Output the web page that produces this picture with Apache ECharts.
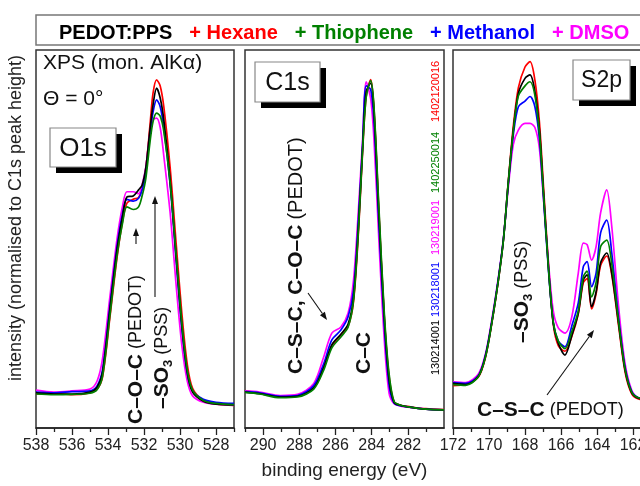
<!DOCTYPE html>
<html>
<head>
<meta charset="utf-8">
<script src="https://cdn.jsdelivr.net/npm/echarts@6/dist/echarts.min.js"></script>
<style>
  html, body { margin: 0; padding: 0; background: #fff; }
  #chart { width: 640px; height: 486px; }
</style>
</head>
<body>
<div id="chart"></div>
<script>
// sample names / colours
const sampleNames = ['PEDOT:PPS', '+ Hexane', '+ Thiophene', '+ Methanol', '+ DMSO'];
const sampleColors = ['#000000', '#ff0000', '#008000', '#0000ff', '#ff00ff'];
const sampleIds = ['130214001', '1402120016', '1402250014', '130218001', '130219001'];

// O1s region (binding energy in eV, intensity normalised, 0..100)
const o1sEnergy = [538, 537, 536, 535, 534.6, 534.3, 533.9, 533.5, 533.2, 532.95, 532.6, 532.3, 532.1, 531.9, 531.67, 531.5, 531.3, 531.1, 530.9, 530.55, 530.2, 529.9, 529.6, 529.3, 528.7, 528, 527];
const o1sPedot = [9.3, 9.0, 9.0, 9.5, 10.8, 14.8, 31.2, 47.1, 55.8, 61.1, 61.4, 63.0, 64.3, 68.8, 78.8, 85.4, 89.9, 87.3, 81.5, 65.6, 44.4, 27.2, 14.8, 9.5, 7.1, 6.3, 6.1];
const o1sHexane = [9.0, 9.2, 8.8, 9.3, 10.3, 13.5, 29, 45, 54.5, 59.5, 60.5, 61, 63.5, 68.5, 80, 88.5, 92.1, 90.5, 85, 69, 48, 30.5, 17, 10.5, 7.3, 6.4, 6.0];
const o1sThiophene = [9.0, 8.8, 8.9, 9.2, 10.2, 13.8, 29.5, 45.5, 54, 58.5, 57.8, 58.5, 61.5, 66, 75.5, 81, 83.3, 82.5, 78.5, 65, 45, 28, 15.5, 10, 7.3, 6.5, 6.2];
const o1sMethanol = [9.5, 9.3, 9.6, 9.8, 11.2, 15.5, 32, 48, 56.5, 60.5, 60, 60.8, 63, 67.5, 77.5, 83.5, 86.8, 85, 79.5, 64.5, 43.5, 26.5, 14.5, 9.8, 7.6, 6.8, 6.5];
const o1sDmso = [10.0, 9.5, 9.8, 10.3, 12.5, 18.5, 34.5, 50, 58.5, 62.5, 62.5, 62, 64.5, 69, 78, 81.5, 82, 79.5, 72, 57, 37, 22, 12.5, 8.5, 6.8, 6.3, 6.0];

// C1s region
const c1sEnergy = [291, 290.2, 289.05, 288.1, 287.2, 286.65, 286.2, 285.7, 285.3, 285.0, 284.72, 284.5, 284.3, 284.05, 283.87, 283.6, 283.3, 283.04, 282.76, 282.4, 282.0, 281, 280];
const c1sPedot = [9.5, 9.1, 8.2, 8.4, 10.6, 16, 22, 24.8, 27.5, 34.5, 54, 74, 89, 91.2, 83.5, 56.5, 29, 13, 6.8, 6.0, 5.6, 5.0, 4.8];
const c1sHexane = [9.9, 9.2, 8.3, 8.4, 10.6, 15.8, 21.8, 24.6, 26.9, 33.5, 52.5, 73, 87.8, 92.2, 84.5, 57.5, 29.5, 13.8, 6.9, 6.0, 5.7, 5.1, 4.9];
const c1sThiophene = [9.4, 9.0, 8.0, 8.2, 10.3, 15.3, 21.2, 24.1, 26.7, 33.9, 53.2, 73.5, 87.5, 91.9, 85, 58.5, 30.4, 14.5, 7.0, 6.0, 5.6, 5.0, 4.8];
const c1sMethanol = [9.6, 9.3, 8.4, 8.6, 11.2, 17.0, 23.3, 25.9, 29.4, 36.5, 56, 75, 90.5, 89.5, 81, 54, 27, 11.5, 6.6, 5.9, 5.6, 5.0, 4.8];
const c1sDmso = [9.8, 9.5, 8.6, 8.9, 11.8, 18.8, 25.1, 26.7, 30.4, 39.2, 58.5, 76.2, 91.6, 87, 76.2, 49.7, 23.3, 9.3, 6.4, 5.8, 5.5, 5.0, 4.8];

// S2p region
const s2pEnergy = [172, 171.3, 170.6, 170.2, 169.85, 169.48, 169.2, 168.93, 168.65, 168.37, 168.0, 167.72, 167.45, 167.2, 166.98, 166.7, 166.43, 166.15, 165.78, 165.4, 165.04, 164.76, 164.55, 164.3, 164.05, 163.8, 163.46, 163.18, 162.8, 162.44, 162.07, 161.7, 161];
const s2pPedot = [11.8, 11.5, 13.6, 18.9, 27.7, 39.2, 49.7, 64.8, 78.8, 88.5, 92.5, 93.4, 89, 79, 63, 42.7, 27.7, 22.4, 19.3, 24.5, 30.4, 39.2, 40.5, 32.1, 36, 43.7, 46.3, 41, 27.7, 15.3, 9.3, 7.9, 7.5];
const s2pHexane = [11.2, 11.6, 13.4, 18.6, 27.5, 39, 49.8, 65.2, 79.8, 90, 95.5, 96.9, 92, 81, 64.5, 43.5, 27.5, 21.8, 20.3, 24.2, 30.2, 38.5, 39.5, 31.5, 35.5, 43, 45.5, 40.5, 27, 14.8, 9, 7.7, 7.4];
const s2pThiophene = [11.5, 11.3, 13.5, 18.7, 27.6, 39.1, 49.6, 64.9, 78.5, 87.8, 90.5, 91.6, 88, 78, 62.5, 42.5, 28, 23, 21, 25.5, 31, 40, 41.5, 34.7, 38.5, 48, 49.7, 43.5, 28.2, 15.6, 9.5, 8, 7.6];
const s2pMethanol = [12, 11.8, 13.8, 19.2, 28, 39.5, 50, 64.5, 77.5, 85, 86.5, 87.7, 85, 76.5, 61.5, 42, 28, 23, 21.5, 27, 33.1, 42.7, 44, 37.4, 41, 51.6, 55, 46.3, 29, 16, 9.6, 8, 7.6];
const s2pDmso = [12.2, 12, 14.2, 19.5, 28.5, 39.8, 50, 63.5, 75, 78.8, 80.6, 80.6, 79.5, 74, 61, 44, 31, 26.5, 25.1, 29.4, 41, 48.9, 48.5, 44.4, 48, 56.9, 63, 53.3, 32.1, 17, 10, 8, 7.6];

// axis ranges and tick labels
const o1sRange = [527, 538];
const c1sRange = [280, 291];
const s2pRange = [161, 172];
const o1sMajor = [528, 530, 532, 534, 536, 538];
const o1sMinor = [527, 529, 531, 533, 535, 537];
const c1sMajor = [282, 284, 286, 288, 290];
const c1sMinor = [281, 283, 285, 287, 289, 291];
const s2pMajor = [162, 164, 166, 168, 170, 172];
const s2pMinor = [161, 163, 165, 167, 169, 171];

const FONT = 'Liberation Sans, Arial, sans-serif';
const chart = echarts.init(document.getElementById('chart'));

const panels = [
  { energy: o1sEnergy, values: [o1sPedot, o1sHexane, o1sThiophene, o1sMethanol, o1sDmso], range: o1sRange, major: o1sMajor, minor: o1sMinor, left: 36, width: 198 },
  { energy: c1sEnergy, values: [c1sPedot, c1sHexane, c1sThiophene, c1sMethanol, c1sDmso], range: c1sRange, major: c1sMajor, minor: c1sMinor, left: 245, width: 199 },
  { energy: s2pEnergy, values: [s2pPedot, s2pHexane, s2pThiophene, s2pMethanol, s2pDmso], range: s2pRange, major: s2pMajor, minor: s2pMinor, left: 453, width: 198 }
];

const grids = [], xAxes = [], yAxes = [], series = [];
// draw order: red, magenta, blue, black, green on top
const drawOrder = [1, 4, 3, 0, 2];

panels.forEach((p, i) => {
  grids.push({ left: p.left, width: p.width, top: 50, height: 378, show: true, borderColor: '#333', borderWidth: 1.5,
    backgroundColor: 'transparent', containLabel: false, outerBoundsMode: 'none' });
  xAxes.push({
    type: 'value', gridIndex: i, position: 'bottom', inverse: true, min: p.range[0], max: p.range[1],
    axisLine: { show: true, lineStyle: { color: '#222', width: 1.5 } },
    axisTick: { show: true, customValues: p.major, length: 7, lineStyle: { color: '#222', width: 1.3 } },
    axisLabel: { customValues: p.major, fontSize: 16, color: '#222', fontFamily: FONT, margin: 10 },
    splitLine: { show: false },
    name: i === 1 ? 'binding energy (eV)' : '',
    nameLocation: 'middle', nameGap: 33,
    nameTextStyle: { fontSize: 19, color: '#222', fontFamily: FONT }
  });
  xAxes.push({
    type: 'value', gridIndex: i, position: 'bottom', inverse: true, min: p.range[0], max: p.range[1],
    axisLine: { show: false },
    axisTick: { show: true, customValues: p.minor, length: 4, lineStyle: { color: '#222', width: 1.3 } },
    axisLabel: { show: false },
    splitLine: { show: false }
  });
  yAxes.push({ type: 'value', gridIndex: i, min: 0, max: 100, show: false });
  drawOrder.forEach(k => {
    series.push({
      name: sampleNames[k], type: 'line', xAxisIndex: i * 2, yAxisIndex: i,
      data: p.energy.map((e, j) => [e, p.values[k][j]]),
      showSymbol: false, smooth: 0.3, silent: true,
      lineStyle: { color: sampleColors[k], width: 1.7 },
      itemStyle: { color: sampleColors[k] }
    });
  });
});

function txt(x, y, text, size, opts) {
  return { type: 'text', x: x, y: y, style: Object.assign({ text: text, fontSize: size, fontFamily: FONT, fill: '#111' }, opts || {}) };
}
function vtxt(x, y, text, rich) {
  return { type: 'text', x: x, y: y, rotation: Math.PI / 2,
    style: { text: text, rich: rich, fontSize: 18, align: 'left', verticalAlign: 'middle', fontFamily: FONT, fill: '#111' } };
}
function labelBox(x, y, w, h, text, size) {
  return [
    { type: 'rect', shape: { x: x + 6, y: y + 6, width: w, height: h }, style: { fill: '#000' } },
    { type: 'rect', shape: { x: x, y: y, width: w, height: h }, style: { fill: '#fff', stroke: '#888', lineWidth: 1.2 } },
    txt(x + w / 2, y + h / 2 + 1, text, size, { align: 'center', verticalAlign: 'middle' })
  ];
}
function arrow(x1, y1, x2, y2) {
  const a = Math.atan2(y2 - y1, x2 - x1), L = 8, W = 3;
  const bx = x2 - L * Math.cos(a), by = y2 - L * Math.sin(a);
  return [
    { type: 'line', shape: { x1: x1, y1: y1, x2: bx, y2: by }, style: { stroke: '#111', lineWidth: 1.1 } },
    { type: 'polygon', shape: { points: [[x2, y2], [bx - W * Math.sin(a), by + W * Math.cos(a)], [bx + W * Math.sin(a), by - W * Math.cos(a)]] }, style: { fill: '#111' } }
  ];
}

const richStyles = {
  b: { fontWeight: 'bold', fontSize: 21, fontFamily: FONT, fill: '#111', verticalAlign: 'middle' },
  r: { fontSize: 18, fontFamily: FONT, fill: '#111', verticalAlign: 'middle' },
  r2: { fontSize: 20, fontFamily: FONT, fill: '#111', verticalAlign: 'middle' },
  s: { fontSize: 13, fontWeight: 'bold', fontFamily: FONT, fill: '#111', verticalAlign: 'bottom', lineHeight: 26 }
};

const yTitle = txt(16, 218, 'intensity (normalised to C1s peak height)', 18, { align: 'center', verticalAlign: 'middle', fill: '#222' });
yTitle.rotation = Math.PI / 2;

const graphics = [
  { type: 'rect', shape: { x: 36, y: 15, width: 640, height: 30 }, style: { fill: 'none', stroke: '#777', lineWidth: 1.5 } },
  yTitle,
  // panel 1
  txt(43, 53, 'XPS (mon. AlK\u03b1)', 21, { fill: '#111' }),
  txt(43, 89, '\u0398 = 0\u00b0', 21, { fill: '#111' }),
  ...labelBox(50, 128, 66, 39, 'O1s', 26),
  vtxt(136, 424, '{b|C\u2013O\u2013C} {r|(PEDOT)}', richStyles),
  vtxt(162, 409, '{b|\u2013SO}{s|3} {r|(PSS)}', richStyles),
  ...arrow(136, 244, 136, 228),
  ...arrow(155, 297, 155, 196),
  // panel 2
  ...labelBox(255, 62, 65, 40, 'C1s', 25),
  vtxt(296, 374, '{b|C\u2013S\u2013C, C\u2013O\u2013C} {r2|(PEDOT)}', richStyles),
  vtxt(364, 374, '{b|C\u2013C}', richStyles),
  ...arrow(308, 293, 327, 320),
  // panel 3
  ...labelBox(573, 60, 57, 40, 'S2p', 23),
  vtxt(522, 343, '{b|\u2013SO}{s|3} {r|(PSS)}', richStyles),
  txt(477, 410, '{b|C\u2013S\u2013C} {r|(PEDOT)}', 18, { verticalAlign: 'middle', rich: richStyles }),
  ...arrow(547, 395, 594, 330)
];

// measurement file ids in the C1s panel
const idBottoms = [375, 122, 193, 317, 255];
sampleIds.forEach((id, k) => {
  graphics.push({ type: 'text', x: 436, y: idBottoms[k], rotation: Math.PI / 2,
    style: { text: id, fontSize: 11, fontFamily: FONT, fill: sampleColors[k], align: 'left', verticalAlign: 'middle' } });
});

chart.setOption({
  animation: false,
  textStyle: { fontFamily: FONT },
  legend: {
    left: 49, top: 18, icon: 'none', itemWidth: 0, itemGap: 12, selectedMode: false,
    data: sampleNames.map((n, k) => ({ name: n, textStyle: { color: sampleColors[k] } })),
    textStyle: { fontSize: 20, fontWeight: 'bold', fontFamily: FONT }
  },
  grid: grids,
  xAxis: xAxes,
  yAxis: yAxes,
  series: series,
  graphic: graphics
});
</script>
</body>
</html>
